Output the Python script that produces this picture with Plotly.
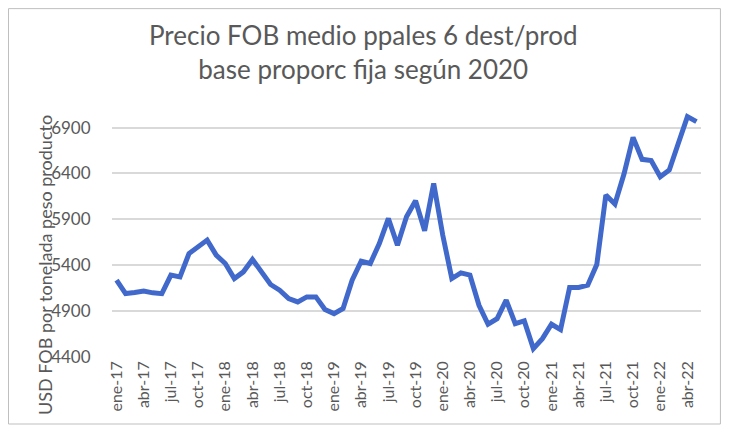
import plotly.graph_objects as go

# Monthly labels, ene-17 .. may-22
meses = ["ene", "feb", "mar", "abr", "may", "jun",
         "jul", "ago", "sep", "oct", "nov", "dic"]
periodos = [f"{m}-{a}" for a in range(17, 23) for m in meses][:65]

# Average FOB price (USD per tonne of product)
precio = [5237, 5091, 5102, 5120, 5099, 5090, 5292, 5273, 5528, 5601,
          5674, 5510, 5419, 5255, 5328, 5463, 5328, 5190, 5128, 5037,
          5000, 5055, 5055, 4917, 4873, 4928, 5237, 5444, 5419, 5637,
          5910, 5619, 5928, 6103, 5776, 6292, 5728, 5255, 5317, 5292,
          4964, 4757, 4818, 5019, 4764, 4793, 4491, 4600, 4757, 4698,
          5157, 5157, 5182, 5408, 6165, 6067, 6394, 6794, 6554, 6540,
          6365, 6438, 6729, 7020, 6965]

y_ticks = [4400, 4900, 5400, 5900, 6400, 6900]

gray = "#595959"
font = "Lato"

fig = go.Figure()
fig.add_trace(go.Scatter(x=periodos, y=precio, mode="lines",
                         line=dict(color="#4169CB", width=5),
                         hoverinfo="x+y"))

# page body has an 8px margin, so the figure is 8px smaller
fig.update_layout(
    width=721, height=431,
    margin=dict(l=104, r=28, t=104, b=82),
    paper_bgcolor="white", plot_bgcolor="white",
    showlegend=False,
    xaxis=dict(type="category", range=[-0.5, len(periodos) - 0.5],
               tickvals=periodos[::3], tickangle=-90, ticks="",
               tickfont=dict(family=font, size=16, color=gray),
               showgrid=False, showline=False, zeroline=False),
    yaxis=dict(range=[4400, 7070], tickvals=y_ticks, ticks="outside",
               ticklen=17, tickcolor="rgba(0,0,0,0)",
               showgrid=True, gridcolor="#D9D9D9", gridwidth=1.5,
               zeroline=False, showline=False,
               tickfont=dict(family=font, size=17, color=gray)),
)

# Title (centred on the whole chart, not the plot area)
fig.add_annotation(text="Precio FOB medio ppales 6 dest/prod<br>base proporc fija según 2020",
                   xref="paper", yref="paper", x=0, y=1.245, xshift=251,
                   showarrow=False, xanchor="center", yanchor="middle",
                   font=dict(family=font, size=26, color=gray))

# Y axis title
fig.add_annotation(text="USD FOB por tonelada peso producto",
                   xref="paper", yref="paper", x=0, y=0.3755, xshift=-67,
                   textangle=-90, showarrow=False,
                   xanchor="center", yanchor="middle",
                   font=dict(family=font, size=18, color=gray))

# Chart frame
fig.add_shape(type="rect", xref="paper", yref="paper",
              x0=-0.1757, x1=1.033, y0=-0.2735, y1=1.422,
              line=dict(color="#BFBFBF", width=1))

fig.write_html("out.html")
